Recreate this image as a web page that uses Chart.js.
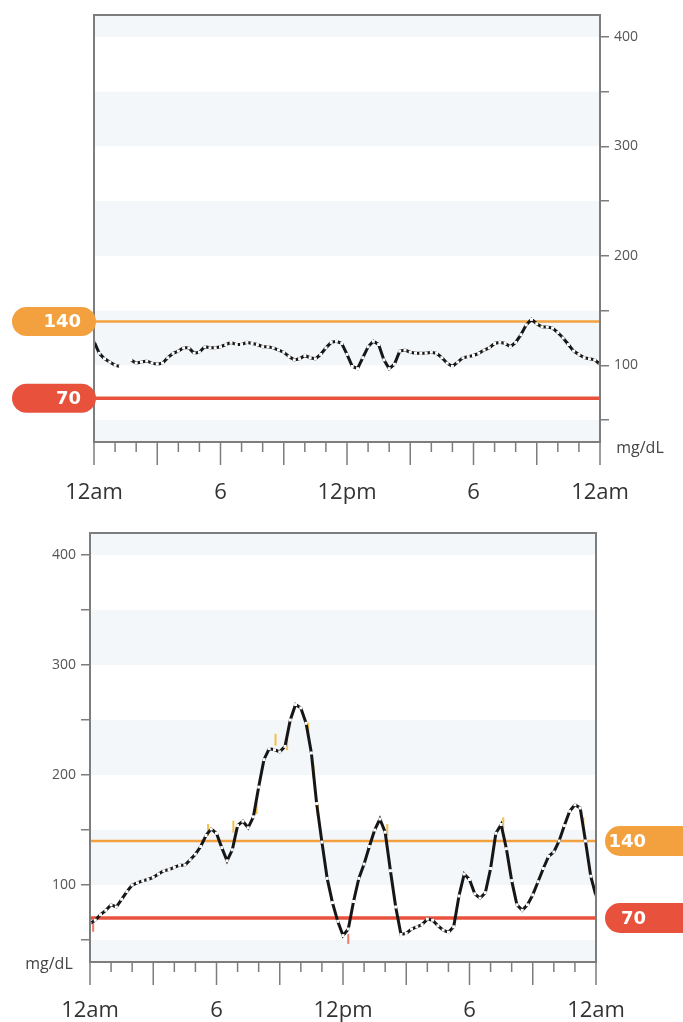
<!DOCTYPE html>
<html>
<head>
<meta charset="utf-8">
<script src="https://cdn.jsdelivr.net/npm/chart.js@4.4.0/dist/chart.umd.min.js"></script>
<style>
  html, body { margin: 0; padding: 0; background: #fff; }
  #topBox { position: absolute; left: 0; top: 0; width: 683px; height: 515px; }
  #bottomBox { position: absolute; left: 0; top: 515px; width: 683px; height: 507px; }
</style>
</head>
<body>
<div id="topBox"><canvas id="topChart"></canvas></div>
<div id="bottomBox"><canvas id="bottomChart"></canvas></div>
<script>
// readings every 15 minutes, 12am -> 12am (mg/dL)
const SAMPLE_MINUTES = 15;
const topValues = [
  122, 111, 106, 103, 100, 99, null, 105, 102, 103,
  104, 102, 101, 102, 107, 111, 113, 116, 116, 111,
  112, 117, 116, 116, 117, 119, 121, 119, 119, 121,
  120, 119, 117, 117, 116, 114, 112, 108, 105, 106,
  109, 107, 106, 110, 116, 121, 122, 120, 110, 99,
  97, 107, 117, 122, 119, 105, 97, 101, 113, 114,
  112, 111, 111, 111, 112, 111, 107, 102, 99, 103,
  107, 108, 109, 111, 114, 116, 120, 121, 120, 117,
  121, 128, 137, 142, 138, 135, 135, 134, 130, 125,
  119, 113, 110, 107, 106, 105, 101
];
const bottomValues = [
  65, 68, 73, 77, 82, 80, 87, 94, 100, 102,
  104, 105, 107, 110, 113, 114, 116, 118, 118, 123,
  128, 135, 145, 151, 147, 134, 122, 132, 154, 158,
  152, 162, 189, 214, 224, 223, 221, 226, 250, 264,
  261, 247, 220, 174, 139, 106, 84, 67, 54, 60,
  85, 106, 119, 135, 150, 160, 148, 113, 80, 55,
  56, 60, 62, 64, 69, 68, 63, 59, 57, 62,
  90, 110, 105, 92, 88, 93, 115, 147, 155, 133,
  104, 82, 77, 82, 91, 103, 115, 126, 130, 140,
  154, 167, 173, 170, 140, 108, 90
];

// small event marks on the lower chart (hour, mg/dL)
const yellowMarkHours = [5.6, 6.8, 7.9, 8.8, 9.35, 10.35, 10.6, 10.8, 14.1, 19.6, 23.4];
const yellowMarkValues = [150, 153, 170, 232, 228, 242, 203, 168, 150, 156, 156];
const redMarkHours = [0.15, 12.25];
const redMarkValues = [62, 51];

const highLimit = 140;
const lowLimit = 70;

const labelHours = [0, 6, 12, 18, 24];
const labelTexts = ['12am', '6', '12pm', '6', '12am'];
const yTickMarks = [50, 100, 150, 200, 250, 300, 350, 400];
const yLabelValues = [100, 200, 300, 400];
const bandStarts = [0, 100, 200, 300, 400];

const ORANGE = '#f2a13e';
const RED = '#e8523c';

function toPoints(values) {
  return values.map((v, i) => ({ x: i * SAMPLE_MINUTES / 60, y: v }));
}

function pairPoints(xs, ys) {
  return xs.map((x, i) => ({ x: x, y: ys[i] }));
}

function roundRect(ctx, x, y, w, h, r) {
  ctx.beginPath();
  ctx.moveTo(x + r, y);
  ctx.lineTo(x + w - r, y);
  ctx.arc(x + w - r, y + r, r, -Math.PI / 2, Math.PI / 2);
  ctx.lineTo(x + r, y + h);
  ctx.arc(x + r, y + r, r, Math.PI / 2, Math.PI * 1.5);
  ctx.closePath();
}

const decorPlugin = {
  id: 'decor',
  beforeDraw(chart) {
    const { ctx, chartArea, scales } = chart;
    ctx.save();
    ctx.beginPath();
    ctx.rect(chartArea.left, chartArea.top, chartArea.right - chartArea.left, chartArea.bottom - chartArea.top);
    ctx.clip();
    ctx.fillStyle = '#f4f7f9';
    bandStarts.forEach(b => {
      const y1 = scales.y.getPixelForValue(b + 50);
      const y2 = scales.y.getPixelForValue(b);
      ctx.fillRect(chartArea.left, y1, chartArea.right - chartArea.left, y2 - y1);
    });
    ctx.restore();
  },
  afterDraw(chart, args, opts) {
    const { ctx, chartArea, scales } = chart;
    ctx.save();
    // frame
    ctx.strokeStyle = '#7d7d7d';
    ctx.lineWidth = 2;
    ctx.strokeRect(chartArea.left, chartArea.top, chartArea.right - chartArea.left, chartArea.bottom - chartArea.top);
    // hour ticks under the plot
    ctx.lineWidth = 1.5;
    for (let h = 0; h <= 24; h++) {
      const x = scales.x.getPixelForValue(h);
      const len = h % 3 === 0 ? 23 : 10;
      ctx.beginPath();
      ctx.moveTo(x, chartArea.bottom);
      ctx.lineTo(x, chartArea.bottom + len);
      ctx.stroke();
    }
    // limit badges
    const badges = [[highLimit, ORANGE], [lowLimit, RED]];
    ctx.font = 'bold 18px "DejaVu Sans"';
    ctx.textBaseline = 'middle';
    badges.forEach(([v, col]) => {
      const y = scales.y.getPixelForValue(v);
      ctx.fillStyle = col;
      if (opts.side === 'left') {
        roundRect(ctx, 12, y - 14.5, 84, 29, 14.5);
        ctx.fill();
        ctx.fillStyle = '#fff';
        ctx.textAlign = 'right';
        ctx.fillText(String(v), 81, y + 1);
      } else {
        roundRect(ctx, chartArea.right + 9, y - 15, 96, 30, 15);
        ctx.fill();
        ctx.fillStyle = '#fff';
        ctx.textAlign = 'right';
        ctx.fillText(String(v), chartArea.right + 50, y + 1);
      }
    });
    // unit label
    ctx.fillStyle = '#444';
    ctx.font = '16px "Open Sans"';
    ctx.textAlign = 'center';
    ctx.fillText('mg/dL', opts.unitX, chartArea.bottom + opts.unitDy);
    ctx.restore();
  }
};

function createGlucoseChart(canvasId, values, cfg) {
  const ctx = document.getElementById(canvasId).getContext('2d');
  const datasets = [
    {
      data: toPoints(values),
      borderColor: '#161616',
      borderWidth: 3,
      borderCapStyle: 'butt',
      pointStyle: 'rect',
      pointRadius: 2.1,
      pointBorderWidth: 0,
      pointBackgroundColor: '#ffffff',
      pointHoverRadius: 0,
      spanGaps: false,
      tension: 0,
      order: 0
    },
    {
      data: [{ x: 0, y: highLimit }, { x: 24, y: highLimit }],
      borderColor: ORANGE,
      borderWidth: 2.5,
      pointRadius: 0,
      order: 3
    },
    {
      data: [{ x: 0, y: lowLimit }, { x: 24, y: lowLimit }],
      borderColor: RED,
      borderWidth: 3.5,
      pointRadius: 0,
      order: 2
    }
  ];
  if (cfg.marks) {
    datasets.push({
      type: 'scatter',
      data: pairPoints(yellowMarkHours, yellowMarkValues),
      pointStyle: 'line',
      rotation: 90,
      pointRadius: 6,
      pointBorderWidth: 2,
      pointBorderColor: '#f5c04a',
      order: 1
    });
    datasets.push({
      type: 'scatter',
      data: pairPoints(redMarkHours, redMarkValues),
      pointStyle: 'line',
      rotation: 90,
      pointRadius: 5,
      pointBorderWidth: 2,
      pointBorderColor: '#ef7a6a',
      order: 1
    });
  }
  return new Chart(ctx, {
    type: 'line',
    data: { datasets: datasets },
    options: {
      responsive: true,
      maintainAspectRatio: false,
      animation: false,
      events: [],
      layout: { padding: cfg.padding },
      plugins: {
        legend: { display: false },
        tooltip: { enabled: false },
        decor: { side: cfg.badgeSide, unitX: cfg.unitX, unitDy: cfg.unitDy }
      },
      scales: {
        x: {
          type: 'linear',
          min: 0,
          max: 24,
          afterBuildTicks: s => { s.ticks = labelHours.map(v => ({ value: v })); },
          ticks: {
            autoSkip: false,
            maxRotation: 0,
            padding: cfg.xPad,
            color: '#333',
            font: { family: '"Open Sans"', size: 22 },
            callback: v => labelTexts[labelHours.indexOf(v)]
          },
          grid: { display: false, drawTicks: false },
          border: { display: false },
          afterFit: s => { s.height = cfg.xHeight; }
        },
        y: {
          position: cfg.yPosition,
          min: 30,
          max: 420,
          afterBuildTicks: s => { s.ticks = yTickMarks.map(v => ({ value: v })); },
          ticks: {
            padding: 5,
            color: '#555',
            font: { family: '"Open Sans"', size: 14 },
            callback: v => yLabelValues.includes(v) ? String(v) : ''
          },
          grid: { drawOnChartArea: false, drawTicks: true, tickLength: 9, color: '#7d7d7d', lineWidth: 1.5 },
          border: { display: false },
          afterFit: s => { s.width = cfg.yWidth; }
        }
      }
    },
    plugins: [decorPlugin]
  });
}

createGlucoseChart('topChart', topValues, {
  padding: { left: 94, top: 15, right: 0, bottom: 0 },
  yPosition: 'right',
  yWidth: 83,
  xHeight: 73,
  xPad: 38,
  badgeSide: 'left',
  unitX: 640,
  unitDy: 6,
  marks: false
});

createGlucoseChart('bottomChart', bottomValues, {
  padding: { left: 0, top: 18, right: 87, bottom: 0 },
  yPosition: 'left',
  yWidth: 90,
  xHeight: 60,
  xPad: 36,
  badgeSide: 'right',
  unitX: 49,
  unitDy: 2,
  marks: true
});
</script>
</body>
</html>
